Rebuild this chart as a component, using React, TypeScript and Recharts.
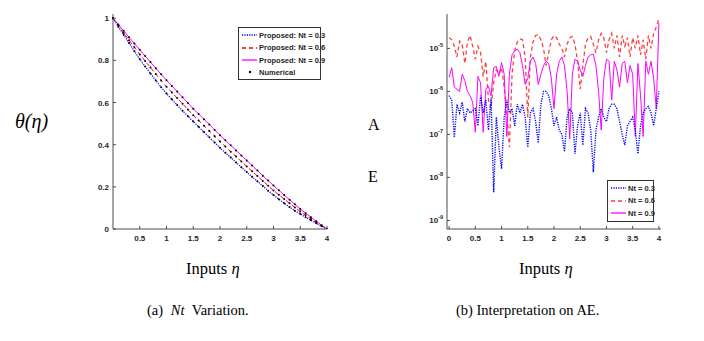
import { LineChart, Line, XAxis, YAxis } from 'recharts'

// left panel: theta(eta) for three Nt values, read at 0.1 steps
const ETA_A = [
  0, 0.1, 0.2, 0.3, 0.4, 0.5, 0.6, 0.7, 0.8, 0.9, 1.0, 1.1, 1.2, 1.3, 1.4, 1.5, 1.6, 1.7, 1.8, 1.9, 2.0,
  2.1, 2.2, 2.3, 2.4, 2.5, 2.6, 2.7, 2.8, 2.9, 3.0, 3.1, 3.2, 3.3, 3.4, 3.5, 3.6, 3.7, 3.8, 3.9, 4.0,
]
const THETA_NT03 = [
  1.0, 0.96, 0.921, 0.882, 0.843, 0.805, 0.771, 0.738, 0.705, 0.673, 0.643, 0.615, 0.588, 0.561, 0.535,
  0.51, 0.485, 0.46, 0.435, 0.41, 0.385, 0.362, 0.339, 0.316, 0.293, 0.27, 0.248, 0.226, 0.204, 0.182,
  0.161, 0.141, 0.122, 0.104, 0.087, 0.071, 0.056, 0.041, 0.027, 0.013, 0.0,
]
const THETA_NT06 = [
  1.0, 0.965, 0.93, 0.896, 0.862, 0.828, 0.797, 0.766, 0.735, 0.705, 0.675, 0.648, 0.621, 0.594, 0.567,
  0.54, 0.515, 0.49, 0.465, 0.44, 0.415, 0.391, 0.367, 0.344, 0.32, 0.297, 0.274, 0.251, 0.228, 0.205,
  0.183, 0.162, 0.142, 0.122, 0.102, 0.083, 0.065, 0.048, 0.031, 0.015, 0.0,
]
const THETA_NT09 = [
  1.0, 0.97, 0.94, 0.91, 0.88, 0.85, 0.821, 0.792, 0.763, 0.734, 0.706, 0.679, 0.652, 0.625, 0.598,
  0.571, 0.546, 0.521, 0.496, 0.47, 0.445, 0.421, 0.397, 0.373, 0.349, 0.325, 0.301, 0.277, 0.253, 0.23,
  0.206, 0.184, 0.161, 0.139, 0.117, 0.095, 0.075, 0.056, 0.037, 0.018, 0.0,
]
const TICKS_A_X = [0.5, 1, 1.5, 2, 2.5, 3, 3.5, 4]
const TICKS_A_Y = [0, 0.2, 0.4, 0.6, 0.8, 1]

// right panel: absolute error, stored as log10 exponents
const ETA_B = [
  0, 0.05, 0.1, 0.15, 0.2, 0.25, 0.3, 0.35, 0.4, 0.45, 0.5, 0.55, 0.6, 0.65, 0.7, 0.75, 0.8, 0.85, 0.9, 0.95,
  1.0, 1.05, 1.1, 1.15, 1.2, 1.25, 1.3, 1.35, 1.4, 1.45, 1.5, 1.55, 1.6, 1.65, 1.7, 1.75, 1.8, 1.85, 1.9, 1.95,
  2.0, 2.05, 2.1, 2.15, 2.2, 2.25, 2.3, 2.35, 2.4, 2.45, 2.5, 2.55, 2.6, 2.65, 2.7, 2.75, 2.8, 2.85, 2.9, 2.95,
  3.0, 3.05, 3.1, 3.15, 3.2, 3.25, 3.3, 3.35, 3.4, 3.45, 3.5, 3.55, 3.6, 3.65, 3.7, 3.75, 3.8, 3.85, 3.9, 3.95,
  4.0,
]
const AE_NT03_EXP = [
  -6.1, -6.2, -7.07, -6.3, -6.5, -6.25, -6.7, -6.4, -6.5, -6.45, -6.4, -6.8, -6.1, -6.5, -6.2, -6.9, -6.15, -8.35, -6.6, -7.3,
  -7.8, -6.6, -6.2, -6.5, -6.4, -6.8, -6.3, -6.5, -6.3, -6.6, -7.3, -6.5, -6.4, -6.7, -7.2, -6.3, -6.0, -6.0, -6.1, -6.4,
  -6.8, -6.6, -6.9, -7.0, -7.4, -6.6, -6.4, -6.5, -7.45, -6.8, -6.5, -7.25, -6.4, -6.5, -6.9, -7.88, -6.9, -6.6, -6.4, -6.6,
  -6.7, -6.4, -6.3, -6.3, -6.4, -6.7, -7.0, -7.25, -6.8, -6.7, -6.6, -6.9, -7.45, -6.8, -6.5, -6.4, -6.35, -6.5, -6.8, -6.4,
  -6.0,
]
const AE_NT06_EXP = [
  -4.75, -4.8, -4.95, -5.2, -4.83, -4.9, -5.35, -4.85, -4.7, -4.95, -5.25, -4.95, -5.1, -5.65, -5.3, -6.2, -6.4, -5.8, -5.5, -5.6,
  -5.45, -5.9, -6.5, -7.3, -5.6, -5.05, -4.85, -4.78, -4.8, -5.2, -6.6, -5.2, -4.85, -4.7, -4.68, -4.8, -5.0, -5.4, -5.1, -4.8,
  -4.7, -4.75, -4.9, -5.0, -5.2, -4.9, -4.75, -4.72, -4.9, -5.3, -5.95, -5.4, -4.9, -4.75, -4.72, -4.9, -5.1, -4.8, -4.65, -4.75,
  -5.1, -4.8, -4.65, -5.0, -4.7, -5.2, -4.7, -4.95, -4.75, -5.2, -4.75, -5.0, -4.7, -5.15, -4.8, -5.25, -4.7, -5.0, -4.65, -4.5,
  -4.3,
]
const AE_NT09_EXP = [
  -5.67, -5.45, -5.9, -5.95, -6.0, -5.6, -5.75, -6.0, -6.1, -6.25, -6.95, -5.65, -5.8, -6.95, -5.95, -5.88, -6.1, -5.45, -5.42, -5.65,
  -5.33, -5.6, -7.05, -5.6, -5.15, -5.05, -5.02, -5.1, -5.4, -5.84, -5.7, -5.3, -5.2, -5.35, -5.84, -5.6, -5.4, -5.3, -5.35, -5.7,
  -6.4, -5.6, -5.3, -5.2, -5.4, -6.0, -7.1, -5.6, -5.25, -5.3, -5.5, -5.65, -5.4, -5.2, -5.15, -5.14, -5.4, -6.0, -6.9, -5.7,
  -5.25, -5.3, -6.2, -5.3, -5.5, -5.9, -5.35, -5.3, -5.8, -5.4, -5.6, -7.05, -5.35, -6.1, -7.05, -5.3, -5.6, -5.3, -5.7, -6.4,
  -4.4,
]
const TICKS_B_X = [0, 0.5, 1, 1.5, 2, 2.5, 3, 3.5, 4]
const TICKS_B_Y = [1e-9, 1e-8, 1e-7, 1e-6, 1e-5]

const thetaData = ETA_A.map((eta, i) => ({
  eta,
  nt03: THETA_NT03[i],
  nt06: THETA_NT06[i],
  nt09: THETA_NT09[i],
}))

const aeData = ETA_B.map((eta, i) => ({
  eta,
  nt03: 10 ** AE_NT03_EXP[i],
  nt06: 10 ** AE_NT06_EXP[i],
  nt09: 10 ** AE_NT09_EXP[i],
}))

const AXIS = '#4d4d4d'
const TICK_FONT = { fontSize: 8, fontWeight: 'bold', fill: '#262626', fontFamily: 'Liberation Sans, Arial' }
const BLACK_DOT = { r: 1, fill: '#000', stroke: 'none' }
const GAP = 4 // tickMargin; text sits this far from the axis line
const IN = 3 // inward tick length

// bottom axis: label below, short tick pointing up into the plot
function BottomTick({ x, y, payload }: any) {
  const axisY = y - GAP
  return (
    <g>
      <line x1={x} y1={axisY} x2={x} y2={axisY - IN} stroke={AXIS} />
      <text x={x} y={y} dy={8} textAnchor="middle" {...TICK_FONT}>
        {payload.value}
      </text>
    </g>
  )
}

function TopTick({ x, y }: any) {
  return <line x1={x} y1={y} x2={x} y2={y + IN} stroke={AXIS} />
}

function LeftTick({ x, y, payload }: any) {
  const axisX = x + GAP
  return (
    <g>
      <line x1={axisX} y1={y} x2={axisX + IN} y2={y} stroke={AXIS} />
      <text x={x} y={y} dy={3} textAnchor="end" {...TICK_FONT}>
        {payload.value}
      </text>
    </g>
  )
}

function RightTick({ x, y }: any) {
  return <line x1={x} y1={y} x2={x - IN} y2={y} stroke={AXIS} />
}

function PowTick({ x, y, payload }: any) {
  const exp = Math.round(Math.log10(payload.value))
  const axisX = x + GAP
  return (
    <g>
      <line x1={axisX} y1={y} x2={axisX + IN} y2={y} stroke={AXIS} />
      <text x={x} y={y} dy={3} textAnchor="end" {...TICK_FONT}>
        10
        <tspan dy={-4} fontSize={5.5}>
          {exp}
        </tspan>
      </text>
    </g>
  )
}

type Row = { color?: string; dash?: string; label: string; dot?: boolean }

function LegendBox({ rows, left, top, width }: { rows: Row[]; left: number; top: number; width: number }) {
  return (
    <div
      style={{
        position: 'absolute',
        left,
        top,
        width,
        border: '1px solid #333',
        background: '#fff',
        padding: '1px 2px',
        fontFamily: 'Liberation Sans, Arial',
        fontSize: 7.5,
        fontWeight: 'bold',
        color: '#262626',
        boxSizing: 'border-box',
        whiteSpace: 'nowrap',
      }}
    >
      {rows.map((r) => (
        <div key={r.label} style={{ display: 'flex', alignItems: 'center', height: r.dot ? 11 : 12.5 }}>
          <svg width={17} height={6} style={{ marginRight: 1, flexShrink: 0 }}>
            {r.dot ? (
              <circle cx={9} cy={3} r={1.2} fill="#000" />
            ) : (
              <line x1={1} y1={3} x2={16} y2={3} stroke={r.color} strokeWidth={1.3} strokeDasharray={r.dash} />
            )}
          </svg>
          <span>{r.label}</span>
        </div>
      ))}
    </div>
  )
}

function ThetaChart() {
  return (
    <LineChart width={260} height={250} data={thetaData} margin={{ top: 14, right: 13, bottom: 6, left: 8 }}>
      <XAxis
        dataKey="eta"
        type="number"
        domain={[0, 4]}
        ticks={TICKS_A_X}
        tick={<BottomTick />}
        tickLine={false}
        tickSize={0}
        tickMargin={GAP}
        stroke={AXIS}
        height={15}
      />
      <XAxis xAxisId="top" orientation="top" dataKey="eta" type="number" domain={[0, 4]} ticks={TICKS_A_X} tick={<TopTick />} tickLine={false} tickSize={0} tickMargin={0} stroke={AXIS} height={0} />
      <YAxis
        type="number"
        domain={[0, 1.02]}
        ticks={TICKS_A_Y}
        tick={<LeftTick />}
        tickLine={false}
        tickSize={0}
        tickMargin={GAP}
        stroke={AXIS}
        width={25}
        allowDataOverflow
      />
      <YAxis yAxisId="right" orientation="right" type="number" domain={[0, 1.02]} ticks={TICKS_A_Y} tick={<RightTick />} tickLine={false} tickSize={0} tickMargin={0} stroke={AXIS} width={0} />
      <Line dataKey="nt09" stroke="#ff00ff" strokeWidth={1} dot={BLACK_DOT} isAnimationActive={false} />
      <Line dataKey="nt06" stroke="#ff0000" strokeWidth={1} strokeDasharray="4 3" dot={BLACK_DOT} isAnimationActive={false} />
      <Line dataKey="nt03" stroke="#0000ff" strokeWidth={1.2} strokeDasharray="1.2 1.2" dot={BLACK_DOT} isAnimationActive={false} />
    </LineChart>
  )
}

function ErrorChart() {
  const yDomain = [10 ** -9.2, 10 ** -4.2]
  return (
    <LineChart width={264} height={250} data={aeData} margin={{ top: 14, right: 13, bottom: 6, left: 12 }}>
      <XAxis
        dataKey="eta"
        type="number"
        domain={[-0.04, 4.04]}
        ticks={TICKS_B_X}
        tick={<BottomTick />}
        tickLine={false}
        tickSize={0}
        tickMargin={GAP}
        stroke={AXIS}
        height={15}
        allowDataOverflow
      />
      <XAxis xAxisId="top" orientation="top" dataKey="eta" type="number" domain={[-0.04, 4.04]} ticks={TICKS_B_X} tick={<TopTick />} tickLine={false} tickSize={0} tickMargin={0} stroke={AXIS} height={0} allowDataOverflow />
      <YAxis
        type="number"
        scale="log"
        domain={yDomain}
        ticks={TICKS_B_Y}
        tick={<PowTick />}
        tickLine={false}
        tickSize={0}
        tickMargin={GAP}
        stroke={AXIS}
        width={25}
        allowDataOverflow
      />
      <YAxis yAxisId="right" orientation="right" type="number" scale="log" domain={yDomain} ticks={TICKS_B_Y} tick={<RightTick />} tickLine={false} tickSize={0} tickMargin={0} stroke={AXIS} width={0} allowDataOverflow />
      <Line dataKey="nt06" stroke="#ff4040" strokeWidth={1.3} strokeDasharray="4 3" dot={false} isAnimationActive={false} />
      <Line dataKey="nt09" stroke="#ff00ff" strokeWidth={1} dot={false} isAnimationActive={false} />
      <Line dataKey="nt03" stroke="#0000ff" strokeWidth={1.4} strokeDasharray="1.2 1.2" dot={false} isAnimationActive={false} />
    </LineChart>
  )
}

const serif = { position: 'absolute' as const, fontFamily: 'Liberation Serif, Times New Roman, serif', color: '#000', whiteSpace: 'nowrap' as const }

export default function App() {
  return (
    <div style={{ position: 'absolute', left: 0, top: 0, width: 704, height: 341, background: '#fff', overflow: 'hidden' }}>
      <div style={{ position: 'absolute', left: 80, top: 0 }}>
        <ThetaChart />
      </div>
      <div style={{ position: 'absolute', left: 410, top: 0 }}>
        <ErrorChart />
      </div>
      <LegendBox
        left={238}
        top={27}
        width={83}
        rows={[
          { color: '#0000ff', dash: '1.2 1.2', label: 'Proposed: Nt = 0.3' },
          { color: '#ff0000', dash: '4 3', label: 'Proposed: Nt = 0.6' },
          { color: '#ff00ff', label: 'Proposed: Nt = 0.9' },
          { dot: true, label: 'Numerical' },
        ]}
      />
      <LegendBox
        left={607}
        top={180}
        width={47}
        rows={[
          { color: '#0000ff', dash: '1.2 1.2', label: 'Nt = 0.3' },
          { color: '#ff4040', dash: '4 3', label: 'Nt = 0.6' },
          { color: '#ff00ff', label: 'Nt = 0.9' },
        ]}
      />
      <div style={{ ...serif, left: 15, top: 110, fontSize: 20, fontStyle: 'italic' }}>θ(η)</div>
      <div style={{ ...serif, left: 368, top: 116, fontSize: 16 }}>A</div>
      <div style={{ ...serif, left: 368, top: 168, fontSize: 16 }}>E</div>
      <div style={{ ...serif, left: 186, top: 259, fontSize: 16.5 }}>
        Inputs <i>η</i>
      </div>
      <div style={{ ...serif, left: 519, top: 259, fontSize: 16.5 }}>
        Inputs <i>η</i>
      </div>
      <div style={{ ...serif, left: 147, top: 302, fontSize: 14.5, wordSpacing: 4 }}>
        (a) <i>Nt</i> Variation.
      </div>
      <div style={{ ...serif, left: 456, top: 302, fontSize: 14.5 }}>(b) Interpretation on AE.</div>
    </div>
  )
}
